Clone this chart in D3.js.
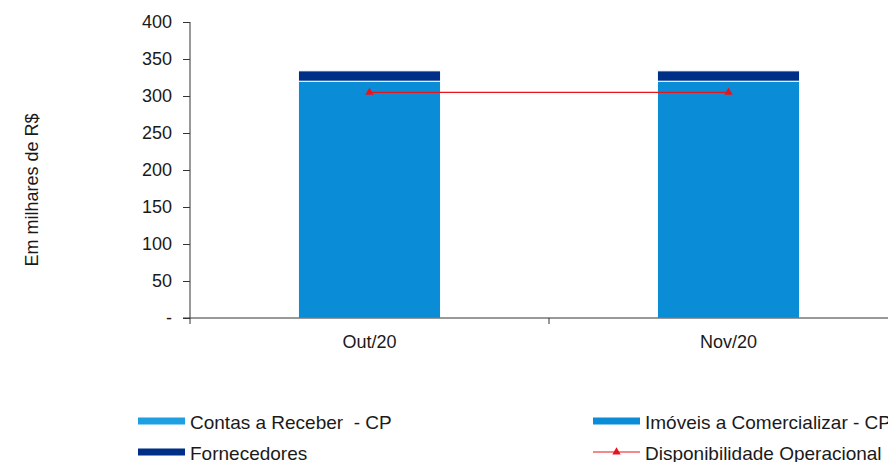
<!DOCTYPE html>
<html>
<head>
<meta charset="utf-8">
<script src="https://cdn.jsdelivr.net/npm/d3@7"></script>
<style>
  html, body { margin: 0; padding: 0; background: #fff; overflow: hidden; }
  svg { display: block; font-family: "Liberation Sans", Arial, sans-serif; }
</style>
</head>
<body>
<svg id="chart" width="888" height="462"></svg>
<script>
// Monthly categories
const months = ["Out/20", "Nov/20"];
// Stacked series (R$ thousands)
const contasReceber = [0, 0];
const imoveisComercializar = [320, 320];
const fornecedores = [14, 14];
// Line series
const disponibilidade = [305, 305];
// Y axis ticks
const yTicks = [0, 50, 100, 150, 200, 250, 300, 350, 400];

const seriesNames = ["Contas a Receber  - CP", "Imóveis a Comercializar - CP", "Fornecedores"];
const seriesColors = ["#1e9fe2", "#0a8dd6", "#002f87"];
const lineColor = "#e8141c";

const svg = d3.select("#chart");

const x = d3.scaleBand().domain(months).range([190, 908]).paddingInner(0).paddingOuter(0);
const y = d3.scaleLinear().domain([0, 400]).range([318, 22]);
const barW = x.bandwidth() * 0.396;

// Build stacked data
const rows = months.map((m, i) => ({
  month: m,
  c: contasReceber[i],
  im: imoveisComercializar[i],
  f: fornecedores[i]
}));
const stack = d3.stack().keys(["c", "im", "f"]);
const layers = stack(rows);

const g = svg.append("g");
layers.forEach((layer, li) => {
  g.selectAll(null)
    .data(layer)
    .enter()
    .append("rect")
    .attr("x", d => x(d.data.month) + x.bandwidth() / 2 - barW / 2)
    .attr("width", barW)
    .attr("y", d => y(d[1]))
    .attr("height", d => Math.max(0, y(d[0]) - y(d[1])))
    .attr("fill", seriesColors[li])
    .attr("stroke", d => (d[1] - d[0]) > 0 ? "#fff" : "none")
    .attr("stroke-width", 1);
});

// Y axis
const yAxis = d3.axisLeft(y)
  .tickValues(yTicks)
  .tickSize(7)
  .tickPadding(11)
  .tickFormat(d => d === 0 ? "-" : d3.format("d")(d));
const ya = svg.append("g").attr("transform", "translate(190,0)").call(yAxis);
ya.select(".domain").attr("stroke", "#333").attr("d", "M0,22V318");
ya.selectAll(".tick line").attr("stroke", "#333");
ya.selectAll(".tick text").attr("fill", "#1a1a1a").style("font-size", "18px");

// X axis line and category separators
const xa = svg.append("g");
xa.append("line")
  .attr("x1", 183).attr("x2", 888)
  .attr("y1", y(0)).attr("y2", y(0))
  .attr("stroke", "#333");
const bounds = [months[0]].map(m => x(m)).concat(months.map(m => x(m) + x.bandwidth()));
xa.selectAll(null).data(bounds).enter().append("line")
  .attr("x1", d => d).attr("x2", d => d)
  .attr("y1", y(0)).attr("y2", y(0) + 6)
  .attr("stroke", "#333");
xa.selectAll(null).data(months).enter().append("text")
  .attr("x", d => x(d) + x.bandwidth() / 2)
  .attr("y", 348)
  .attr("text-anchor", "middle")
  .attr("fill", "#1a1a1a")
  .style("font-size", "18px")
  .text(d => d);

// Line series
const lineGen = d3.line()
  .x((d, i) => x(months[i]) + x.bandwidth() / 2)
  .y(d => y(d));
svg.append("path")
  .datum(disponibilidade)
  .attr("d", lineGen)
  .attr("fill", "none")
  .attr("stroke", lineColor)
  .attr("stroke-width", 1.2);
const tri = d3.symbol().type(d3.symbolTriangle).size(30);
svg.selectAll(null).data(disponibilidade).enter().append("path")
  .attr("d", tri)
  .attr("transform", (d, i) => `translate(${x(months[i]) + x.bandwidth() / 2},${y(d)})`)
  .attr("fill", lineColor);

// Y axis title
svg.append("text")
  .attr("transform", "translate(38,190) rotate(-90)")
  .attr("text-anchor", "middle")
  .attr("fill", "#1a1a1a")
  .style("font-size", "18px")
  .text("Em milhares de R$");

// Legend
const legendItems = [
  { name: seriesNames[0], color: seriesColors[0], type: "bar", x: 138, y: 421 },
  { name: seriesNames[1], color: seriesColors[1], type: "bar", x: 593, y: 421 },
  { name: seriesNames[2], color: seriesColors[2], type: "bar", x: 138, y: 452 },
  { name: "Disponibilidade Operacional", color: lineColor, type: "line", x: 593, y: 452 }
];
const lg = svg.append("g");
legendItems.forEach(it => {
  if (it.type === "bar") {
    lg.append("rect")
      .attr("x", it.x).attr("y", it.y - 3.5)
      .attr("width", 47).attr("height", 7)
      .attr("fill", it.color);
  } else {
    lg.append("line")
      .attr("x1", it.x).attr("x2", it.x + 47)
      .attr("y1", it.y).attr("y2", it.y)
      .attr("stroke", it.color).attr("stroke-width", 1.2);
    lg.append("path")
      .attr("d", tri)
      .attr("transform", `translate(${it.x + 23.5},${it.y})`)
      .attr("fill", it.color);
  }
  lg.append("text")
    .attr("x", it.x + 52).attr("y", it.y + 7.5)
    .attr("fill", "#1a1a1a")
    .style("font-size", "19px")
    .style("white-space", "pre")
    .text(it.name);
});
</script>
</body>
</html>
